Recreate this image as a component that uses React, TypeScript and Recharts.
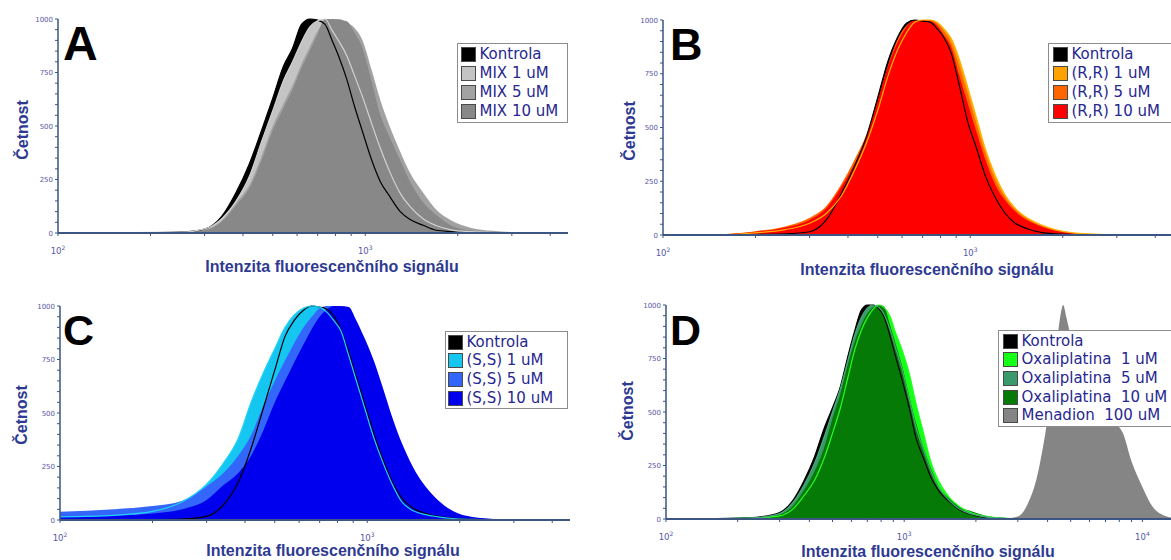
import React from 'react';
import { ComposedChart, Area, Line, XAxis, YAxis } from 'recharts';

// fluorescence intensity bins (panels A, B, C)
const intensityABC = [
  100, 150, 200, 250, 300, 340, 380, 420, 460, 500, 540, 580, 620, 660, 700, 740, 780,
  820, 870, 920, 980, 1050, 1120, 1200, 1300, 1400, 1550, 1700, 1900, 2200, 2600, 3200, 4500,
];

// panel D reaches further right (Menadion peak)
const intensityD = [
  100, 150, 200, 250, 300, 340, 380, 420, 460, 500, 540, 580, 620, 660, 700, 740, 780,
  820, 870, 920, 980, 1050, 1120, 1200, 1300, 1400, 1550, 1700, 1900, 2200, 2600, 3000,
  3300, 3600, 3900, 4200, 4500, 4650, 4800, 5100, 5500, 6000, 6500, 7000, 7600, 8300,
  9000, 10000, 11000, 12500, 14000, 16000,
];

// A
const kontrolaA = [0, 1, 2, 4, 18, 75, 190, 325, 480, 630, 775, 863, 975, 1000, 995, 975, 900, 825, 720, 598, 473, 340, 240, 172, 100, 63, 35, 13, 7, 3, 1, 0, 0];
const mix1A = [0, 1, 3, 3, 19, 65, 150, 266, 428, 571, 707, 800, 893, 963, 992, 1000, 947, 897, 830, 740, 636, 510, 396, 288, 185, 123, 64, 35, 15, 6, 2, 1, 0];
const mix5A = [0, 1, 2, 3, 14, 56, 140, 225, 360, 500, 600, 690, 790, 870, 945, 990, 1000, 1000, 985, 960, 900, 760, 620, 500, 380, 280, 185, 110, 60, 25, 10, 3, 0];
const mix10A = [0, 1, 2, 3, 12, 50, 130, 210, 340, 480, 580, 670, 770, 850, 930, 1000, 1000, 995, 990, 940, 863, 707, 551, 450, 340, 240, 140, 85, 35, 12, 4, 1, 0];

// B
const kontrolaB = [0, 0, 2, 5, 15, 70, 190, 320, 460, 640, 810, 920, 985, 1000, 995, 990, 960, 920, 840, 700, 530, 400, 275, 180, 100, 55, 27, 12, 5, 2, 1, 0, 0];
const rr1B = [0, 1, 10, 25, 55, 100, 180, 300, 430, 580, 740, 860, 940, 990, 1000, 1000, 990, 960, 910, 820, 690, 540, 400, 285, 185, 125, 75, 47, 24, 9, 3, 0, 0];
const rr5B = [0, 3, 18, 40, 80, 135, 235, 350, 470, 620, 790, 910, 975, 995, 1000, 1000, 985, 950, 890, 790, 660, 510, 380, 265, 175, 120, 72, 45, 23, 8, 3, 0, 0];
const rr10B = [0, 2, 15, 35, 70, 124, 223, 330, 458, 626, 786, 895, 968, 1000, 1000, 995, 975, 930, 868, 745, 615, 475, 350, 240, 160, 110, 65, 40, 20, 7, 2, 0, 0];

// C
const kontrolaC = [0, 0, 1, 4, 17, 70, 175, 340, 527, 700, 858, 935, 980, 1000, 995, 985, 950, 890, 785, 670, 545, 405, 290, 185, 100, 58, 30, 17, 8, 3, 1, 0, 0];
const ss1C = [15, 22, 40, 85, 167, 265, 380, 555, 690, 800, 900, 960, 990, 1000, 995, 970, 930, 885, 769, 654, 525, 385, 275, 173, 82, 46, 25, 15, 7, 3, 1, 0, 0];
const ss5C = [38, 50, 65, 90, 158, 218, 300, 400, 537, 650, 745, 830, 900, 950, 990, 1000, 1000, 970, 920, 860, 760, 640, 530, 400, 290, 200, 120, 65, 28, 10, 4, 1, 0];
const ss10C = [15, 20, 30, 50, 93, 162, 219, 304, 422, 549, 649, 740, 820, 893, 950, 985, 1000, 1000, 995, 935, 850, 745, 625, 490, 355, 255, 155, 92, 42, 14, 5, 2, 0];

// D
const kontrolaD = [0, 2, 4, 10, 30, 85, 180, 290, 420, 520, 620, 760, 880, 975, 1000, 1000, 985, 950, 860, 760, 650, 520, 380, 290, 190, 130, 80, 45, 22, 8, 3, 1, 0, 0, 0, 0, 0, 0, 0, 0, 0, 0, 0, 0, 0, 0, 0, 0, 0, 0, 0, 0];
const oxa1D = [0, 1, 3, 7, 15, 45, 110, 180, 280, 400, 520, 660, 790, 880, 940, 980, 1000, 990, 950, 870, 790, 680, 540, 410, 260, 175, 100, 60, 30, 12, 4, 1, 0, 0, 0, 0, 0, 0, 0, 0, 0, 0, 0, 0, 0, 0, 0, 0, 0, 0, 0, 0];
const oxa5D = [0, 1, 3, 8, 25, 75, 160, 260, 380, 500, 610, 740, 860, 940, 985, 1000, 990, 960, 890, 800, 700, 560, 430, 330, 220, 145, 85, 48, 25, 10, 3, 1, 0, 0, 0, 0, 0, 0, 0, 0, 0, 0, 0, 0, 0, 0, 0, 0, 0, 0, 0, 0];
const oxa10D = [0, 1, 3, 8, 20, 60, 135, 222, 330, 470, 587, 722, 830, 905, 960, 990, 1000, 995, 910, 820, 715, 575, 450, 340, 232, 150, 95, 58, 37, 15, 4, 1, 0, 0, 0, 0, 0, 0, 0, 0, 0, 0, 0, 0, 0, 0, 0, 0, 0, 0, 0, 0];
const menadionD = [0, 0, 0, 0, 0, 0, 0, 0, 0, 0, 0, 0, 0, 0, 0, 0, 0, 0, 0, 0, 0, 0, 0, 0, 0, 0, 0, 0, 0, 0, 2, 12, 70, 190, 390, 630, 930, 1000, 940, 810, 690, 610, 540, 490, 450, 400, 270, 150, 60, 14, 3, 0];

const countTicks = [0, 50, 100, 150, 200, 250, 300, 350, 400, 450, 500, 550, 600, 650, 700, 750, 800, 850, 900, 950, 1000];
const logTicksABC = [100, 200, 300, 400, 500, 600, 700, 800, 900, 1000, 2000, 3000, 4000];
const logTicksD = [100, 200, 300, 400, 500, 600, 700, 800, 900, 1000, 2000, 3000, 4000, 5000, 6000, 7000, 8000, 9000, 10000];

const AXIS = '#3d5582';
const TICK_TEXT = '#5656a6';
const TITLE = '#2e3a92';
const LEGEND_TEXT = '#272790';

const XTick = (props: any) => {
  const { x, y, payload } = props;
  const lg = Math.log10(payload.value);
  const exp = Math.round(lg);
  if (Math.abs(lg - exp) > 1e-6) return null;
  return (
    <text x={x} y={y + 18} textAnchor="middle" fontSize={8.5} fontFamily="DejaVu Sans" fill={TICK_TEXT}>
      10<tspan dy={-4} fontSize={6}>{exp}</tspan>
    </text>
  );
};

const YTick = (props: any) => {
  const { x, y, payload } = props;
  if (payload.value % 250 !== 0) return null;
  return (
    <text x={x} y={y} dy={2.5} textAnchor="end" fontSize={7} fontFamily="DejaVu Sans" fill={TICK_TEXT}>
      {payload.value}
    </text>
  );
};

interface Series {
  key: string;
  name: string;
  color: string;
  values: number[];
  line?: string;
}

interface PanelProps {
  left: number;
  top: number;
  plotW: number;
  plotH: number;
  xMax: number;
  xTicks: number[];
  intensities: number[];
  series: Series[];
}

function Histogram({ left, top, plotW, plotH, xMax, xTicks, intensities, series }: PanelProps) {
  const data = intensities.map((x, i) => {
    const row: Record<string, number> = { x };
    series.forEach((s) => (row[s.key] = s.values[i]));
    return row;
  });
  return (
    <div style={{ position: 'absolute', left: left - 58, top: top - 20 }}>
      <ComposedChart
        width={plotW + 70}
        height={plotH + 70}
        data={data}
        margin={{ top: 20, right: 12, bottom: 0, left: 0 }}
      >
        <XAxis
          dataKey="x"
          type="number"
          scale="log"
          domain={[100, xMax]}
          allowDataOverflow
          ticks={xTicks}
          interval={0}
          height={50}
          tickSize={3}
          tickMargin={0}
          axisLine={{ stroke: AXIS, strokeWidth: 2 }}
          tickLine={{ stroke: AXIS }}
          tick={<XTick />}
        />
        <YAxis
          type="number"
          domain={[0, 1000]}
          ticks={countTicks}
          interval={0}
          width={58}
          tickSize={3}
          tickMargin={2}
          axisLine={{ stroke: AXIS, strokeWidth: 1.5 }}
          tickLine={{ stroke: AXIS }}
          tick={<YTick />}
        />
        {series.map((s) => (
          <Area
            key={s.key}
            type="monotone"
            dataKey={s.key}
            name={s.name}
            fill={s.color}
            fillOpacity={1}
            stroke="none"
            isAnimationActive={false}
          />
        ))}
        {series
          .filter((s) => s.line)
          .map((s) => (
            <Line
              key={s.key + '-line'}
              type="monotone"
              dataKey={s.key}
              stroke={s.line}
              strokeWidth={1.2}
              dot={false}
              isAnimationActive={false}
            />
          ))}
      </ComposedChart>
    </div>
  );
}

function LegendBox({ left, top, width, rowH, pad, series }: { left: number; top: number; width: number; rowH: number; pad: number; series: Series[] }) {
  return (
    <div
      style={{
        position: 'absolute',
        left,
        top,
        width,
        border: '1.5px solid #8c8c8c',
        background: '#fff',
        padding: `1px 0 1px ${pad}px`,
        boxSizing: 'border-box',
      }}
    >
      {series.map((s) => (
        <div key={s.key} style={{ display: 'flex', alignItems: 'center', height: rowH }}>
          <span
            style={{
              width: 15,
              height: 15,
              background: s.color,
              border: '1px solid #4a4a4a',
              boxSizing: 'border-box',
              marginRight: 4,
              flexShrink: 0,
            }}
          />
          <span style={{ fontFamily: 'DejaVu Sans', fontSize: 15, color: LEGEND_TEXT, whiteSpace: 'pre', lineHeight: 1 }}>
            {s.name}
          </span>
        </div>
      ))}
    </div>
  );
}

const seriesA: Series[] = [
  { key: 'k', name: 'Kontrola', color: '#000000', values: kontrolaA, line: '#000000' },
  { key: 'm1', name: 'MIX 1 uM', color: '#c4c4c4', values: mix1A, line: '#d2d2d2' },
  { key: 'm5', name: 'MIX 5 uM', color: '#a2a2a2', values: mix5A },
  { key: 'm10', name: 'MIX 10 uM', color: '#888888', values: mix10A },
];
const seriesB: Series[] = [
  { key: 'k', name: 'Kontrola', color: '#000000', values: kontrolaB, line: '#000000' },
  { key: 'r1', name: '(R,R) 1 uM', color: '#ffa200', values: rr1B, line: '#ffb000' },
  { key: 'r5', name: '(R,R) 5 uM', color: '#ff6600', values: rr5B },
  { key: 'r10', name: '(R,R) 10 uM', color: '#fe0000', values: rr10B },
];
const seriesC: Series[] = [
  { key: 'k', name: 'Kontrola', color: '#000000', values: kontrolaC, line: '#000000' },
  { key: 's1', name: '(S,S) 1 uM', color: '#14c6f0', values: ss1C, line: '#22d2f8' },
  { key: 's5', name: '(S,S) 5 uM', color: '#3366fa', values: ss5C },
  { key: 's10', name: '(S,S) 10 uM', color: '#0000ee', values: ss10C },
];
const seriesD: Series[] = [
  { key: 'k', name: 'Kontrola', color: '#000000', values: kontrolaD, line: '#000000' },
  { key: 'o1', name: 'Oxaliplatina  1 uM', color: '#16ff16', values: oxa1D, line: '#22ff22' },
  { key: 'o5', name: 'Oxaliplatina  5 uM', color: '#3a9a6c', values: oxa5D, line: '#4aa87a' },
  { key: 'o10', name: 'Oxaliplatina  10 uM', color: '#067a06', values: oxa10D },
  { key: 'men', name: 'Menadion  100 uM', color: '#858585', values: menadionD },
];

const XTITLE = 'Intenzita fluorescenčního signálu';

export default function App() {
  return (
    <div
      style={{
        position: 'absolute',
        left: 0,
        top: 0,
        width: 1171,
        height: 560,
        overflow: 'hidden',
        background: '#ffffff',
      }}
    >
      <Histogram left={58} top={19} plotW={510} plotH={214} xMax={4570} xTicks={logTicksABC} intensities={intensityABC} series={seriesA} />
      <Histogram left={663} top={20} plotW={510} plotH={215} xMax={4570} xTicks={logTicksABC} intensities={intensityABC} series={seriesB} />
      <Histogram left={60} top={306} plotW={510} plotH={214} xMax={4570} xTicks={logTicksABC} intensities={intensityABC} series={seriesC} />
      <Histogram left={666} top={305} plotW={525} plotH={214} xMax={16000} xTicks={logTicksD} intensities={intensityD} series={seriesD} />

      <LegendBox left={457} top={43} width={111} rowH={19} pad={2.5} series={seriesA} />
      <LegendBox left={1048} top={43} width={130} rowH={19} pad={3.5} series={seriesB} />
      <LegendBox left={445} top={331} width={123} rowH={18.6} pad={1.5} series={seriesC} />
      <LegendBox left={998} top={330} width={180} rowH={18.6} pad={3.5} series={seriesD} />

      <svg width={1171} height={560} style={{ position: 'absolute', left: 0, top: 0, pointerEvents: 'none' }}>
        <g fontFamily="Liberation Sans, Arial, sans-serif" fontWeight="bold" fill="#000">
          <text x={63} y={60} fontSize={48}>A</text>
          <text x={670} y={60} fontSize={45}>B</text>
          <text x={63} y={345} fontSize={43}>C</text>
          <text x={670} y={345} fontSize={43}>D</text>
        </g>
        <g fontFamily="Liberation Sans, Arial, sans-serif" fontWeight="bold" fontSize={16} fill={TITLE} textAnchor="middle">
          <text x={332} y={272}>{XTITLE}</text>
          <text x={927} y={275}>{XTITLE}</text>
          <text x={333} y={556}>{XTITLE}</text>
          <text x={928} y={557}>{XTITLE}</text>
          <text transform="translate(28,130) rotate(-90)">Četnost</text>
          <text transform="translate(635,131) rotate(-90)">Četnost</text>
          <text transform="translate(27,415) rotate(-90)">Četnost</text>
          <text transform="translate(633,411) rotate(-90)">Četnost</text>
        </g>
      </svg>
    </div>
  );
}
